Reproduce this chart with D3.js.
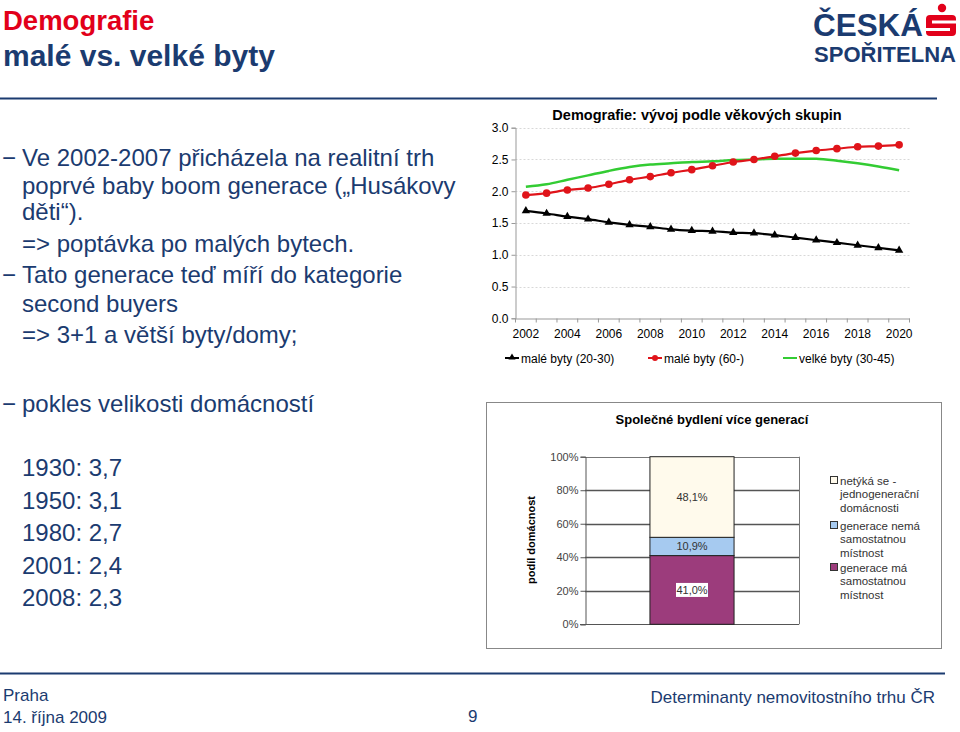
<!DOCTYPE html>
<html><head><meta charset="utf-8">
<script src="https://cdn.jsdelivr.net/npm/d3@7"></script>
<style>body{margin:0;background:#fff}svg{display:block}text{font-family:Arial,"Liberation Sans",sans-serif}</style>
</head><body><svg id="c" width="960" height="732"></svg>
<script>
// ---------- DATA ----------
const years = [2002,2003,2004,2005,2006,2007,2008,2009,2010,2011,2012,2013,2014,2015,2016,2017,2018,2019,2020];
const maleByty2030 = [1.69,1.65,1.60,1.56,1.51,1.47,1.44,1.40,1.38,1.37,1.35,1.34,1.31,1.27,1.23,1.19,1.15,1.11,1.07];
const maleByty60   = [1.94,1.97,2.02,2.05,2.11,2.18,2.23,2.29,2.34,2.40,2.46,2.50,2.55,2.60,2.64,2.67,2.70,2.71,2.73];
const velkeByty3045= [2.07,2.11,2.18,2.25,2.32,2.38,2.42,2.44,2.46,2.47,2.49,2.50,2.51,2.51,2.51,2.48,2.44,2.39,2.33];
const lineSeriesNames = ["malé byty (20-30)","malé byty (60-)","velké byty (30-45)"];
const yTicksLine = [0,0.5,1.0,1.5,2.0,2.5,3.0];

const barCategory = ["2001"];
const householdNames = ["generace má samostatnou místnost","generace nemá samostatnou místnost","netýká se - jednogenerační domácnosti"];
const householdShares = [41.0,10.9,48.1];
const householdLabels = ["41,0%","10,9%","48,1%"];
const yTicksBar = [0,20,40,60,80,100];

const householdSizeYears = ["1930","1950","1980","2001","2008"];
const householdSizeValues = ["3,7","3,1","2,7","2,4","2,3"];

// ---------- SETUP ----------
const svg = d3.select("#c");
const navy = "#1b3b70", red = "#e2001a";

// Header
svg.append("text").attr("x",3).attr("y",30).attr("font-size",27.5).attr("font-weight","bold").attr("fill",red).text("Demografie");
svg.append("text").attr("x",3).attr("y",66).attr("font-size",30).attr("font-weight","bold").attr("fill",navy).text("malé vs. velké byty");

// Logo
const logo = svg.append("g");
logo.append("text").attr("x",813).attr("y",36).attr("font-size",31).attr("font-weight","bold").attr("fill",navy).attr("textLength",110).attr("lengthAdjust","spacingAndGlyphs").text("ČESKÁ");
logo.append("text").attr("x",814).attr("y",62).attr("font-size",22).attr("font-weight","bold").attr("fill",navy).attr("textLength",142).attr("lengthAdjust","spacingAndGlyphs").text("SPOŘITELNA");
logo.append("circle").attr("cx",942).attr("cy",8).attr("r",4.2).attr("fill",red);
logo.append("rect").attr("x",926).attr("y",15).attr("width",30).attr("height",21).attr("rx",4).attr("fill",red);
logo.append("rect").attr("x",932).attr("y",20.5).attr("width",24).attr("height",3).attr("fill","#fff");
logo.append("rect").attr("x",926).attr("y",28).attr("width",24).attr("height",3).attr("fill","#fff");

// separator lines
svg.append("line").attr("x1",0).attr("x2",937).attr("y1",98.5).attr("y2",98.5).attr("stroke",navy).attr("stroke-width",2);
svg.append("line").attr("x1",0).attr("x2",945).attr("y1",673.5).attr("y2",673.5).attr("stroke",navy).attr("stroke-width",2);

// Left text
const bodySize = 24;
function line(x,y,t){svg.append("text").attr("x",x).attr("y",y).attr("font-size",bodySize).attr("fill",navy).text(t);}
function dash(y){svg.append("text").attr("x",2).attr("y",y).attr("font-size",bodySize).attr("fill",navy).text("−");}
dash(166); line(22,166,"Ve 2002-2007 přicházela na realitní trh");
line(22,194,"poprvé baby boom generace („Husákovy");
line(22,220,"děti“).");
line(22,252,"=> poptávka po malých bytech.");
dash(283); line(22,283,"Tato generace teď míří do kategorie");
line(22,312,"second buyers");
line(22,343,"=> 3+1 a větší byty/domy;");
dash(412); line(22,412,"pokles velikosti domácností");
householdSizeYears.forEach((yr,i)=>line(22,476+i*32.6,yr+": "+householdSizeValues[i]));

// Footer
svg.append("text").attr("x",3).attr("y",701).attr("font-size",17).attr("fill",navy).text("Praha");
svg.append("text").attr("x",3).attr("y",723).attr("font-size",17).attr("fill",navy).text("14. října 2009");
svg.append("text").attr("x",468).attr("y",722).attr("font-size",17).attr("fill",navy).text("9");
svg.append("text").attr("x",935).attr("y",703).attr("font-size",17).attr("fill",navy).attr("text-anchor","end").text("Determinanty nemovitostního trhu ČR");

// ---------- LINE CHART ----------
const x = d3.scaleBand().domain(years).range([515.5,909.5]).padding(0);
const y = d3.scaleLinear().domain([0,3]).range([318.3,127.7]);
const lc = svg.append("g");
lc.append("text").attr("x",697).attr("y",120).attr("text-anchor","middle").attr("font-size",14.5).attr("font-weight","bold").attr("fill","#000").text("Demografie: vývoj podle věkových skupin");
// grid
lc.append("g").selectAll("line").data(yTicksLine.filter(d=>d>0)).join("line")
  .attr("x1",515.5).attr("x2",909.5).attr("y1",d=>Math.round(y(d))+0.5).attr("y2",d=>Math.round(y(d))+0.5)
  .attr("stroke","#d8d8d8").attr("stroke-dasharray","2,2");
// y axis
const ya = lc.append("g").attr("transform","translate(515.5,0)").call(d3.axisLeft(y).tickValues(yTicksLine).tickFormat(d3.format(".1f")).tickSize(4).tickPadding(3));
ya.selectAll("path,line").attr("stroke","#999");
ya.selectAll("text").attr("font-size",12).attr("fill","#000").attr("font-family","Arial");
// x axis
const xa = lc.append("g").attr("transform","translate(0,318.5)").call(d3.axisBottom(x).tickFormat(d=>d%2===0?d:"").tickSize(0).tickPadding(11));
xa.select("path").attr("stroke","#999");
xa.selectAll("text").attr("font-size",12).attr("fill","#000").attr("font-family","Arial");
lc.append("g").selectAll("line").data(years.concat([2021])).join("line")
  .attr("x1",d=>d===2021?909.5:x(d)).attr("x2",d=>d===2021?909.5:x(d)).attr("y1",318.5).attr("y2",322.5).attr("stroke","#999");

const cx = d => x(d)+x.bandwidth()/2;
const lineGen = vals => d3.line().x((d,i)=>cx(years[i])).y(d=>y(d)).curve(d3.curveCatmullRom.alpha(0.5))(vals);
lc.append("path").attr("d",lineGen(velkeByty3045)).attr("fill","none").attr("stroke","#33cc33").attr("stroke-width",2.5);
lc.append("path").attr("d",lineGen(maleByty60)).attr("fill","none").attr("stroke","#e0141a").attr("stroke-width",2.2);
lc.append("path").attr("d",lineGen(maleByty2030)).attr("fill","none").attr("stroke","#000").attr("stroke-width",2.2);
lc.append("g").selectAll("circle").data(maleByty60).join("circle")
  .attr("cx",(d,i)=>cx(years[i])).attr("cy",d=>y(d)).attr("r",3.8).attr("fill","#e0141a");
const tri = d3.symbol().type(d3.symbolTriangle).size(30);
lc.append("g").selectAll("path").data(maleByty2030).join("path")
  .attr("d",tri).attr("transform",(d,i)=>`translate(${cx(years[i])},${y(d)})`).attr("fill","#000");

// legend
const lg = lc.append("g");
const legX = [505,648,783], legCol = ["#000","#e0141a","#33cc33"];
lineSeriesNames.forEach((n,i)=>{
  lg.append("line").attr("x1",legX[i]).attr("x2",legX[i]+14).attr("y1",358).attr("y2",358).attr("stroke",legCol[i]).attr("stroke-width",2);
  if(i===0) lg.append("path").attr("d",d3.symbol().type(d3.symbolTriangle).size(22)).attr("transform",`translate(${legX[i]+7},357.5)`).attr("fill","#000");
  if(i===1) lg.append("circle").attr("cx",legX[i]+7).attr("cy",358).attr("r",3).attr("fill","#e0141a");
  lg.append("text").attr("x",legX[i]+16).attr("y",362.5).attr("font-size",12).attr("fill","#000").text(n);
});

// ---------- BAR CHART ----------
const bc = svg.append("g");
bc.append("rect").attr("x",486.5).attr("y",402.5).attr("width",455).attr("height",246).attr("fill","#fff").attr("stroke","#888");
bc.append("text").attr("x",712).attr("y",424).attr("text-anchor","middle").attr("font-size",13).attr("font-weight","bold").attr("fill","#000").text("Společné bydlení více generací");
const bx = d3.scaleBand().domain(barCategory).range([585,799]).paddingInner(0.607).paddingOuter(0.3035);
const by = d3.scaleLinear().domain([0,100]).range([624.3,456.7]);
// grid
bc.append("g").selectAll("line").data(yTicksBar.filter(d=>d>0)).join("line")
  .attr("x1",585).attr("x2",799).attr("y1",d=>Math.round(by(d))+0.5).attr("y2",d=>Math.round(by(d))+0.5)
  .attr("stroke",d=>d===100?"#777":"#555").attr("stroke-width",d=>d===100?1:1.3);
bc.append("line").attr("x1",799.5).attr("x2",799.5).attr("y1",by(100)).attr("y2",by(0)).attr("stroke","#777");
const bya = bc.append("g").attr("transform","translate(585.5,0)").call(d3.axisLeft(by).tickValues(yTicksBar).tickFormat(d=>d+"%").tickSize(5).tickPadding(2));
bya.selectAll("path,line").attr("stroke","#555");
bya.selectAll("text").attr("font-size",11).attr("fill","#444").attr("font-family","Arial");
bc.append("line").attr("x1",580).attr("x2",799).attr("y1",624.5).attr("y2",624.5).attr("stroke","#555");
bc.append("text").attr("transform","translate(535,540) rotate(-90)").attr("text-anchor","middle").attr("font-size",11).attr("font-weight","bold").attr("fill","#000").text("podíl domácnost");
const barColors = ["#9c3c7c","#a6caf0","#fffaec"];
let cum = 0;
const stacks = householdShares.map((v,i)=>{const s={y0:cum,y1:cum+v,i}; cum+=v; return s;});
bc.append("g").selectAll("rect").data(stacks).join("rect")
  .attr("x",bx(barCategory[0])).attr("width",bx.bandwidth())
  .attr("y",d=>by(d.y1)).attr("height",d=>by(d.y0)-by(d.y1))
  .attr("fill",d=>barColors[d.i]).attr("stroke","#222").attr("stroke-width",1);
stacks.forEach(s=>{
  const my = (by(s.y0)+by(s.y1))/2, mx = bx(barCategory[0])+bx.bandwidth()/2;
  if(s.i===0) bc.append("rect").attr("x",mx-16).attr("y",my-7).attr("width",32).attr("height",14).attr("fill","#fff");
  bc.append("text").attr("x",mx).attr("y",my+4).attr("text-anchor","middle").attr("font-size",11).attr("fill","#333").text(householdLabels[s.i]);
});
// legend
const legItems = [
  {c:barColors[2], lines:["netýká se -","jednogenerační","domácnosti"], y:481},
  {c:barColors[1], lines:["generace nemá","samostatnou","místnost"], y:526},
  {c:barColors[0], lines:["generace má","samostatnou","místnost"], y:568}
];
legItems.forEach(it=>{
  bc.append("rect").attr("x",830.5).attr("y",it.y-4.5).attr("width",7).attr("height",7).attr("fill",it.c).attr("stroke","#333");
  it.lines.forEach((t,j)=>bc.append("text").attr("x",840).attr("y",it.y+4+j*13.3).attr("font-size",11.5).attr("fill","#333").text(t));
});
</script></body></html>
